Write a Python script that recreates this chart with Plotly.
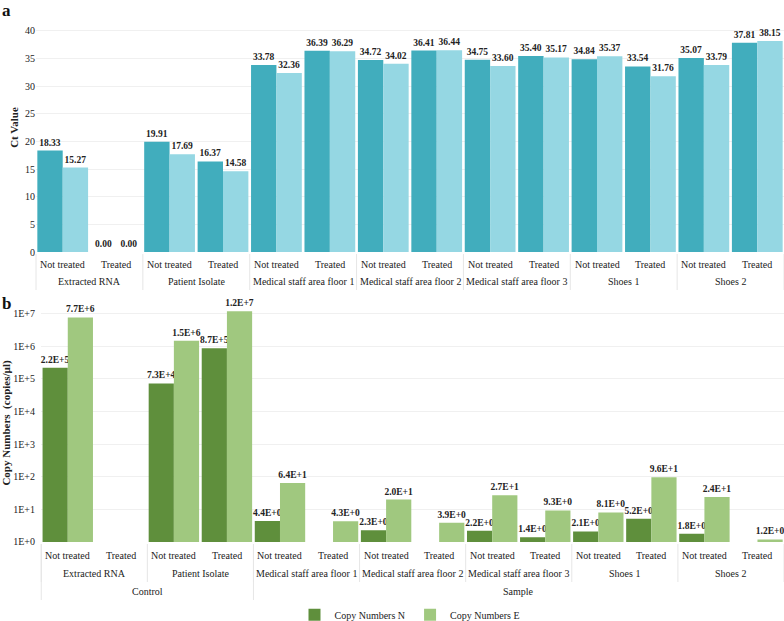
import plotly.graph_objects as go

# sample groups / treatment, shared by both panels
groups = ["Extracted RNA", "Extracted RNA", "Patient Isolate", "Patient Isolate",
          "Medical staff area floor 1", "Medical staff area floor 1",
          "Medical staff area floor 2", "Medical staff area floor 2",
          "Medical staff area floor 3", "Medical staff area floor 3",
          "Shoes 1", "Shoes 1", "Shoes 2", "Shoes 2"]
treatment = ["Not treated", "Treated"] * 7

# panel a: Ct values
ct_n = [18.33, 0.00, 19.91, 16.37, 33.78, 36.39, 34.72, 36.41, 34.75, 35.40, 34.84, 33.54, 35.07, 37.81]
ct_e = [15.27, 0.00, 17.69, 14.58, 32.36, 36.29, 34.02, 36.44, 33.60, 35.17, 35.37, 31.76, 33.79, 38.15]

# panel b: copy numbers (copies/µl), None = no bar
copies_n = [2.2e5, None, 7.3e4, 8.7e5, 4.4, None, 2.3, None, 2.2, 1.4, 2.1, 5.2, 1.8, None]
copies_e = [7.7e6, None, 1.5e6, 1.2e7, 6.4e1, 4.3, 2.0e1, 3.9, 2.7e1, 9.3, 8.1, 9.6e1, 2.4e1, 1.2]

top_groups = ["Control", "Sample"]
top_group_sizes = [4, 10]

log_ticks = [1, 10, 100, 1e3, 1e4, 1e5, 1e6, 1e7]

FONT = "Liberation Serif, Times New Roman, serif"
TEAL_D, TEAL_L = "#41adbd", "#95d7e3"
GREEN_D, GREEN_L = "#5f8f3c", "#a0c87f"
DIV = "#e6e6e6"


def sci(v):
    if v is None:
        return ""
    m, e = f"{v:.1E}".split("E")
    return f"{m}E+{int(e)}"


x = [groups, treatment]
fig = go.Figure()

fig.add_trace(go.Bar(x=x, y=ct_n, marker_color=TEAL_D, showlegend=False,
                     text=[f"{v:.2f}" for v in ct_n], xaxis="x", yaxis="y"))
fig.add_trace(go.Bar(x=x, y=ct_e, marker_color=TEAL_L, showlegend=False,
                     text=[f"{v:.2f}" for v in ct_e], xaxis="x", yaxis="y"))

fig.add_trace(go.Bar(x=x, y=copies_n, marker_color=GREEN_D, name="Copy Numbers N",
                     text=[sci(v) for v in copies_n], xaxis="x2", yaxis="y2"))
fig.add_trace(go.Bar(x=x, y=copies_e, marker_color=GREEN_L, name="Copy Numbers E",
                     text=[sci(v) for v in copies_e], xaxis="x2", yaxis="y2"))

fig.update_traces(textposition="outside", cliponaxis=False, textangle=0,
                  constraintext="none",
                  textfont=dict(family=FONT, size=9.5, color="#222222"),
                  texttemplate="<b>%{text}</b>", marker_line_width=0)

tick_font = dict(family=FONT, size=10, color="#222222")
# category labels are drawn below as annotations so the level spacing can be set
xcommon = dict(type="multicategory", showgrid=False, showline=False, ticks="",
               showticklabels=False, showdividers=False, automargin=False)

fig.update_layout(
    width=784, height=621,
    margin=dict(l=36, r=0, t=3, b=79),
    paper_bgcolor="white", plot_bgcolor="white",
    font=dict(family=FONT, color="#222222"),
    barmode="group", bargap=0.05, bargroupgap=0,
    xaxis=dict(domain=[0, 1], anchor="y", **xcommon),
    yaxis=dict(domain=[0.538, 1], range=[0, 45], dtick=5, showgrid=True,
               gridcolor="#f0f0f0", zeroline=False, showline=False, automargin=False,
               tickfont=dict(family=FONT, size=10, color="#222222"),
               title=dict(text="<b>Ct Value</b>", standoff=4,
                          font=dict(family=FONT, size=11, color="#222222"))),
    xaxis2=dict(domain=[0.007, 1], anchor="y2", **xcommon),
    yaxis2=dict(domain=[0, 0.4416], type="log", range=[0, 7.3],
                tickvals=log_ticks, ticktext=[f"1E+{i}" for i in range(8)],
                showgrid=True, gridcolor="#f0f0f0", zeroline=False, showline=False,
                automargin=False,
                tickfont=dict(family=FONT, size=10, color="#222222"),
                title=dict(text="<b>Copy Numbers  (copies/µl)</b>", standoff=2,
                           font=dict(family=FONT, size=11, color="#222222"))),
    legend=dict(orientation="h", x=0.5, xanchor="center", xref="paper",
                yref="container", y=0.01, yanchor="middle",
                font=dict(family=FONT, size=10, color="#222222"), itemwidth=30),
)

# panel letters
fig.add_annotation(text="<b>a</b>", xref="paper", yref="paper", x=-0.048, y=0.987,
                   xanchor="left", yanchor="middle", showarrow=False,
                   font=dict(family=FONT, size=17, color="#111111"))
fig.add_annotation(text="<b>b</b>", xref="paper", yref="paper", x=-0.048, y=0.443,
                   xanchor="left", yanchor="middle", showarrow=False,
                   font=dict(family=FONT, size=17, color="#111111"))

n = len(groups)
group_spans = []
i = 0
while i < n:
    j = i
    while j < n and groups[j] == groups[i]:
        j += 1
    group_spans.append((groups[i], i, j))
    i = j


def category_labels(xa, ya, sub_shift, grp_shift, div_len):
    for k, t in enumerate(treatment):
        fig.add_annotation(text=t, xref=f"{xa} domain", yref=f"{ya} domain",
                           x=(k + 0.5) / n, y=0, yshift=sub_shift,
                           xanchor="center", yanchor="middle",
                           showarrow=False, font=tick_font)
    for name, a, b in group_spans:
        fig.add_annotation(text=name, xref=f"{xa} domain", yref=f"{ya} domain",
                           x=(a + b) / 2 / n, y=0, yshift=grp_shift,
                           xanchor="center", yanchor="middle",
                           showarrow=False, font=tick_font)
    for edge in [0] + [b for _, _, b in group_spans]:
        fig.add_shape(type="line", xref=f"{xa} domain", yref=f"{ya} domain",
                      x0=edge / n, x1=edge / n, ysizemode="pixel", yanchor=0,
                      y0=-2, y1=-div_len, line=dict(color=DIV, width=1))


category_labels("x", "y", -12, -29, 38)
category_labels("x2", "y2", -13, -31, 40)

# third category level: Control / Sample
start = 0
for name, size in zip(top_groups, top_group_sizes):
    fig.add_annotation(text=name, xref="x2 domain", yref="y2 domain",
                       x=(start + size / 2) / n, y=0, yshift=-49,
                       xanchor="center", yanchor="middle",
                       showarrow=False, font=tick_font)
    fig.add_shape(type="line", xref="x2 domain", yref="y2 domain",
                  x0=start / n, x1=start / n, ysizemode="pixel", yanchor=0,
                  y0=-2, y1=-58, line=dict(color=DIV, width=1))
    start += size

fig.write_html("out.html", config={"displayModeBar": False},
               post_script="document.body.style.margin='0';")
